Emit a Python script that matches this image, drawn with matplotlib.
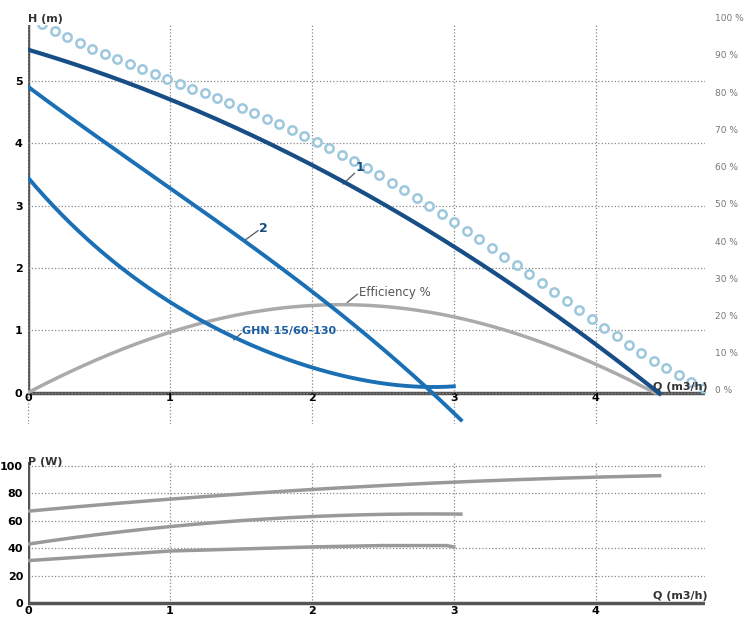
import matplotlib
matplotlib.use("Agg")
import matplotlib.pyplot as plt
import numpy as np

q1 = [0, 0.5, 1, 1.5, 2, 2.5, 3, 3.5, 4, 4.45]
h1 = [5.5, 5.15, 4.7, 4.2, 3.65, 3.05, 2.35, 1.6, 0.75, 0.0]
q2 = [0, 0.5, 1, 1.5, 2, 2.5, 2.8, 3.05]
h2 = [4.9, 4.1, 3.3, 2.45, 1.6, 0.75, 0.1, -0.45]
q3 = [0, 0.5, 1, 1.5, 2, 2.5, 2.8, 3.0]
h3 = [3.45, 2.3, 1.45, 0.85, 0.4, 0.15, 0.1, 0.1]
qe = [0, 0.5, 1, 1.5, 2, 2.3, 2.6, 3, 3.5, 4, 4.42]
he = [0, 0.55, 0.98, 1.25, 1.38, 1.42, 1.38, 1.22, 0.9, 0.45, 0.0]
qd = [0.1, 1, 2, 3, 4, 4.5, 4.85]
hd = [5.9, 5.05, 4.0, 2.8, 1.12, 0.37, 0.0]
pq1 = [0, 1, 2, 3, 4, 4.45]; p1 = [67, 76, 83, 88, 92, 93]
pq2 = [0, 1, 2, 3.05]; p2 = [43, 56, 63, 65]
pq3 = [0, 1, 2, 2.5, 2.95, 3.0]; p3 = [31, 38, 41, 42, 42, 41]
pct = list(range(0, 101, 10))

def smooth(x, y, deg, n=200):
    x = np.array(x, float); y = np.array(y, float)
    t = np.linspace(x[0], x[-1], n)
    c = np.polyfit(x, y, deg)
    return t, np.polyval(c, t)

fig = plt.figure(figsize=(7.49, 6.18), dpi=100)
ax = fig.add_axes([0.0374, 0.314, 0.9039, 0.6456])
XMAX = 4.77
ax.set_xlim(0, XMAX); ax.set_ylim(-0.5, 5.9)
for s in ax.spines.values(): s.set_visible(False)
ax.set_xticks([0, 1, 2, 3, 4]); ax.set_yticks([0, 1, 2, 3, 4, 5])
ax.grid(True, ls=':', color='#888888', lw=0.9)
ax.axhline(0, color='#555555', lw=2.5, zorder=1)
ax.axvline(0, ymin=0.5/6.4, color='#555555', lw=2.5, zorder=1)
ax.tick_params(length=0, labelsize=8)
for l in ax.get_xticklabels() + ax.get_yticklabels(): l.set_fontweight('bold')
ax.tick_params(axis='x', pad=-22)
ax.tick_params(axis='y', pad=4)

td = np.linspace(0.1, 4.85, 55)
cd = np.polyfit(qd, hd, 4)
ax.plot(td, np.polyval(cd, td), ls='none', marker='o', ms=6, mfc='white', mec='#9cc7dd', mew=1.8, zorder=3)
for x, y, c, lw, d in [(qe, he, '#aaaaaa', 2.5, 4), (q3, h3, '#1a6fb5', 2.8, 4), (q2, h2, '#1a6fb5', 2.8, 3), (q1, h1, '#174e86', 3, 3)]:
    t, v = smooth(x, y, d)
    ax.plot(t, v, color=c, lw=lw, zorder=4)

ax.plot([2.22, 2.3], [3.35, 3.52], color='#666666', lw=1)
ax.text(2.31, 3.55, '1', color='#174e86', fontsize=9, fontweight='bold')
ax.plot([1.53, 1.62], [2.45, 2.6], color='#666666', lw=1)
ax.text(1.63, 2.58, '2', color='#174e86', fontsize=9, fontweight='bold')
ax.plot([2.25, 2.32], [1.45, 1.58], color='#666666', lw=1)
ax.text(2.33, 1.55, 'Efficiency %', color='#555555', fontsize=8.5)
ax.plot([1.45, 1.5], [0.85, 0.95], color='#666666', lw=1)
ax.text(1.51, 0.95, 'GHN 15/60-130', color='#1a5fa5', fontsize=8, fontweight='bold')
ax.text(4.4, 0.05, 'Q (m3/h)', fontsize=8, fontweight='bold', color='#333333')
ax.text(0.0, 5.95, 'H (m)', fontsize=8, fontweight='bold', color='#333333')
for p in pct:
    ax.text(XMAX + 0.07, 0.03 + p * 0.0597, f'{p} %', fontsize=6.5, color='#777777', va='center', clip_on=False)

bx = fig.add_axes([0.0374, 0.013, 0.9039, 0.2395])
bx.set_xlim(0, XMAX); bx.set_ylim(-5, 103)
for s in bx.spines.values(): s.set_visible(False)
bx.set_xticks([0, 1, 2, 3, 4]); bx.set_yticks([0, 20, 40, 60, 80, 100])
bx.grid(True, ls=':', color='#888888', lw=0.9)
bx.axhline(0, color='#555555', lw=2.5)
bx.axvline(0, ymin=5/108, color='#555555', lw=2.5)
bx.tick_params(length=0, labelsize=8)
bx.tick_params(axis='x', pad=-3)
for l in bx.get_xticklabels() + bx.get_yticklabels(): l.set_fontweight('bold')
for x, y in [(pq1, p1), (pq2, p2)]:
    t, v = smooth(x, y, 2)
    bx.plot(t, v, color='#999999', lw=2.5)
bx.plot(pq3, p3, color='#999999', lw=2.5)
bx.text(4.4, 3, 'Q (m3/h)', fontsize=8, fontweight='bold', color='#333333')
bx.text(0.0, 101, 'P (W)', fontsize=8, fontweight='bold', color='#333333')
fig.savefig('out.png', dpi=100)
